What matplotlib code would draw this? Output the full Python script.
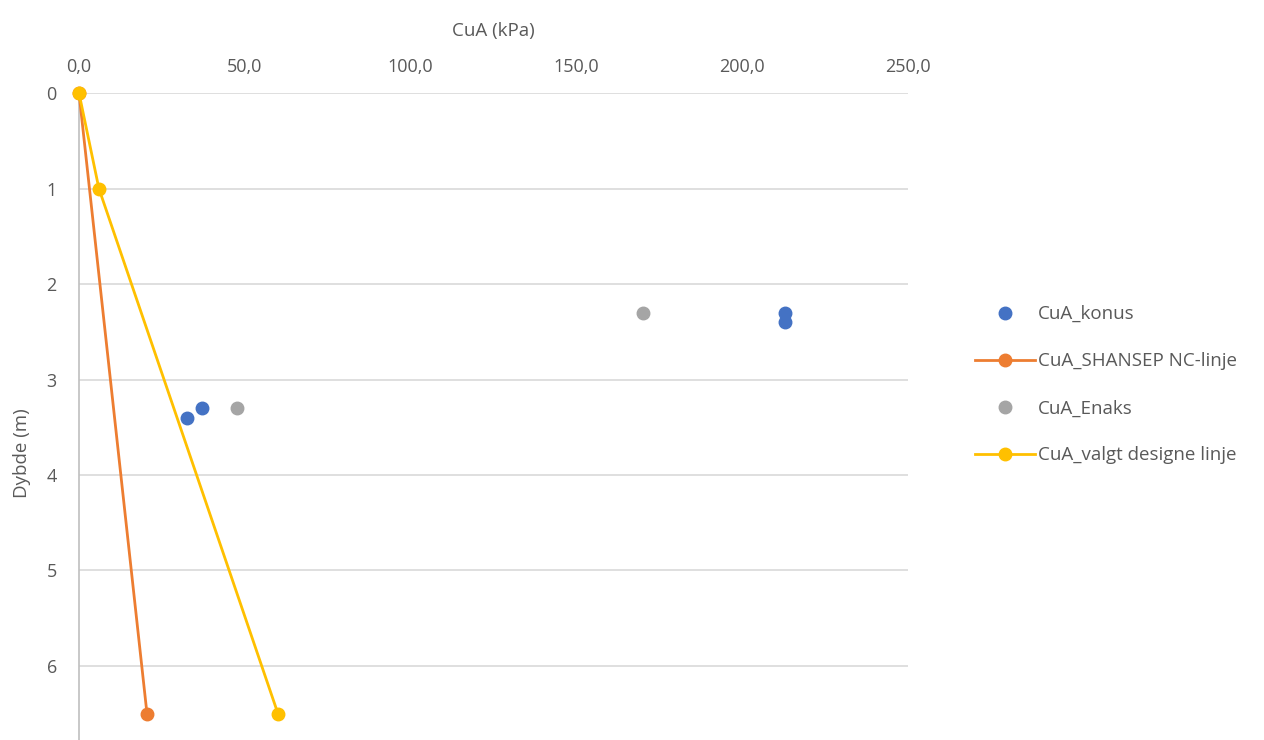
import matplotlib.pyplot as plt
from matplotlib.ticker import FuncFormatter

plt.rcParams['font.family'] = ['Open Sans', 'DejaVu Sans']

# CuA_konus (kPa, m)
konus_cu = [213.0, 213.0, 37.0, 32.5]
konus_depth = [2.3, 2.4, 3.3, 3.4]

# CuA_Enaks
enaks_cu = [170.0, 47.5]
enaks_depth = [2.3, 3.3]

# CuA_SHANSEP NC-linje
shansep_cu = [0.0, 20.5]
shansep_depth = [0.0, 6.5]

# CuA_valgt designe linje
valgt_cu = [0.0, 6.0, 60.0]
valgt_depth = [0.0, 1.0, 6.5]

fig = plt.figure(figsize=(12.64, 7.40), dpi=100)
ax = fig.add_axes([0.0625, 0.0, 0.6560, 0.8743])

ax.plot(konus_cu, konus_depth, 'o', color='#4472C4', markersize=9, label='CuA_konus',
        zorder=3, clip_on=False)
ax.plot(shansep_cu, shansep_depth, '-o', color='#ED7D31', lw=2, markersize=9,
        label='CuA_SHANSEP NC-linje', zorder=3, clip_on=False)
ax.plot(enaks_cu, enaks_depth, 'o', color='#A5A5A5', markersize=9, label='CuA_Enaks',
        zorder=3, clip_on=False)
ax.plot(valgt_cu, valgt_depth, '-o', color='#FFC000', lw=2, markersize=9,
        label='CuA_valgt designe linje', zorder=4, clip_on=False)

ax.set_xlim(0, 250)
ax.set_ylim(6.775, 0)
ax.set_xticks([0, 50, 100, 150, 200, 250])
ax.set_yticks(range(0, 7))
ax.xaxis.set_major_formatter(FuncFormatter(lambda v, p: f'{v:.1f}'.replace('.', ',')))
ax.xaxis.tick_top()
ax.xaxis.set_label_position('top')

ax.grid(axis='y', color='#D9D9D9', lw=1.2)
ax.set_axisbelow(True)
for s in ['top', 'right', 'bottom']:
    ax.spines[s].set_visible(False)
ax.spines['left'].set_color('#BFBFBF')
ax.spines['left'].set_linewidth(1.2)
ax.tick_params(length=0, labelsize=13, labelcolor='#595959')
ax.tick_params(axis='x', pad=12)
ax.tick_params(axis='y', pad=16)

ax.set_xlabel('CuA (kPa)', fontsize=13.5, color='#595959', labelpad=16)
ax.set_ylabel('Dybde (m)', fontsize=13.5, color='#595959')
ax.yaxis.set_label_coords(-0.058, 0.444)

leg = fig.legend(loc='center left', bbox_to_anchor=(0.758, 0.48), frameon=False,
                 fontsize=13.5, labelspacing=1.55, handlelength=3.2, handletextpad=0.15)
for t in leg.get_texts():
    t.set_color('#595959')

fig.savefig('out.png', dpi=100)
